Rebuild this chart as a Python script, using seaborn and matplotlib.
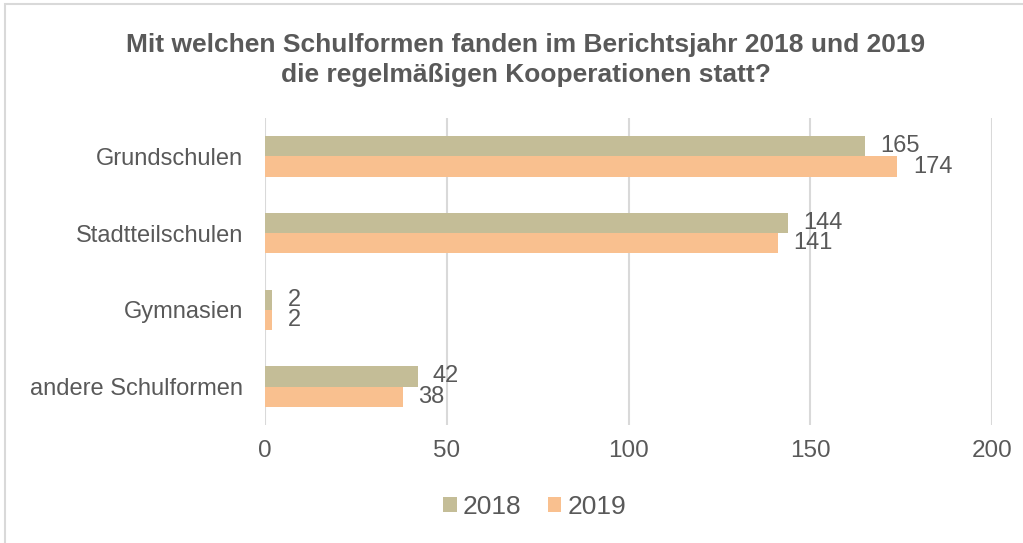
import matplotlib
matplotlib.use("Agg")
import matplotlib.pyplot as plt
from matplotlib.patches import Rectangle, Patch
import seaborn as sns
import pandas as pd

categories = ["Grundschulen", "Stadtteilschulen", "Gymnasien", "andere Schulformen"]
years = ["2018", "2019"]
values_2018 = [165, 144, 2, 42]
values_2019 = [174, 141, 2, 38]
x_ticks = [0, 50, 100, 150, 200]

colors = {"2018": "#C4BD97", "2019": "#F9C08F"}
text_color = "#595959"
grid_color = "#D9D9D9"

df = pd.DataFrame({
    "Schulform": categories * 2,
    "Jahr": ["2018"] * len(categories) + ["2019"] * len(categories),
    "Anzahl": values_2018 + values_2019,
})

sns.set_theme(style="white")
plt.rcParams["font.family"] = ["Liberation Sans", "DejaVu Sans"]

fig = plt.figure(figsize=(10.23, 5.43), dpi=100)
ax = fig.add_axes([265 / 1023, 1 - 425 / 543, (992 - 265) / 1023, (425 - 118) / 543])

sns.barplot(data=df, y="Schulform", x="Anzahl", hue="Jahr", order=categories,
            hue_order=years, palette=colors, width=0.53, orient="h", ax=ax,
            legend=False, saturation=1, edgecolor="none")

for cont in ax.containers:
    ax.bar_label(cont, padding=11, fontsize=17, color=text_color)

ax.set_xlim(0, 200)
ax.set_xticks(x_ticks)
ax.set_xticklabels([str(t) for t in x_ticks])
ax.set_ylim(3.5, -0.5)
ax.set_xlabel("")
ax.set_ylabel("")
for s in ax.spines.values():
    s.set_visible(False)
ax.grid(axis="x", color=grid_color, linewidth=1.5)
ax.grid(axis="y", visible=False)
ax.set_axisbelow(True)
ax.tick_params(axis="y", length=0, pad=16, labelsize=17, labelcolor=text_color)
ax.tick_params(axis="x", length=0, pad=11, labelsize=17.5, labelcolor=text_color)

fig.text(0.514, 1 - 45 / 543, "Mit welchen Schulformen fanden im Berichtsjahr 2018 und 2019",
         ha="center", va="center", fontsize=19, fontweight="bold", color=text_color)
fig.text(0.514, 1 - 75 / 543, "die regelmäßigen Kooperationen statt?",
         ha="center", va="center", fontsize=19, fontweight="bold", color=text_color)

handles = [Patch(facecolor=colors[y], edgecolor="none") for y in years]
fig.legend(handles, years, loc="center", bbox_to_anchor=(535 / 1023, 1 - 507 / 543),
           ncol=2, frameon=False, fontsize=19, labelcolor=text_color,
           handlelength=0.5, handleheight=0.5, handletextpad=0.25, columnspacing=1.0)

fig.patches.append(Rectangle((5 / 1023, -0.1), 1.2, 1.1 - 4 / 543, transform=fig.transFigure,
                             fill=False, edgecolor=grid_color, linewidth=1.5))

fig.savefig("out.png", dpi=100)
